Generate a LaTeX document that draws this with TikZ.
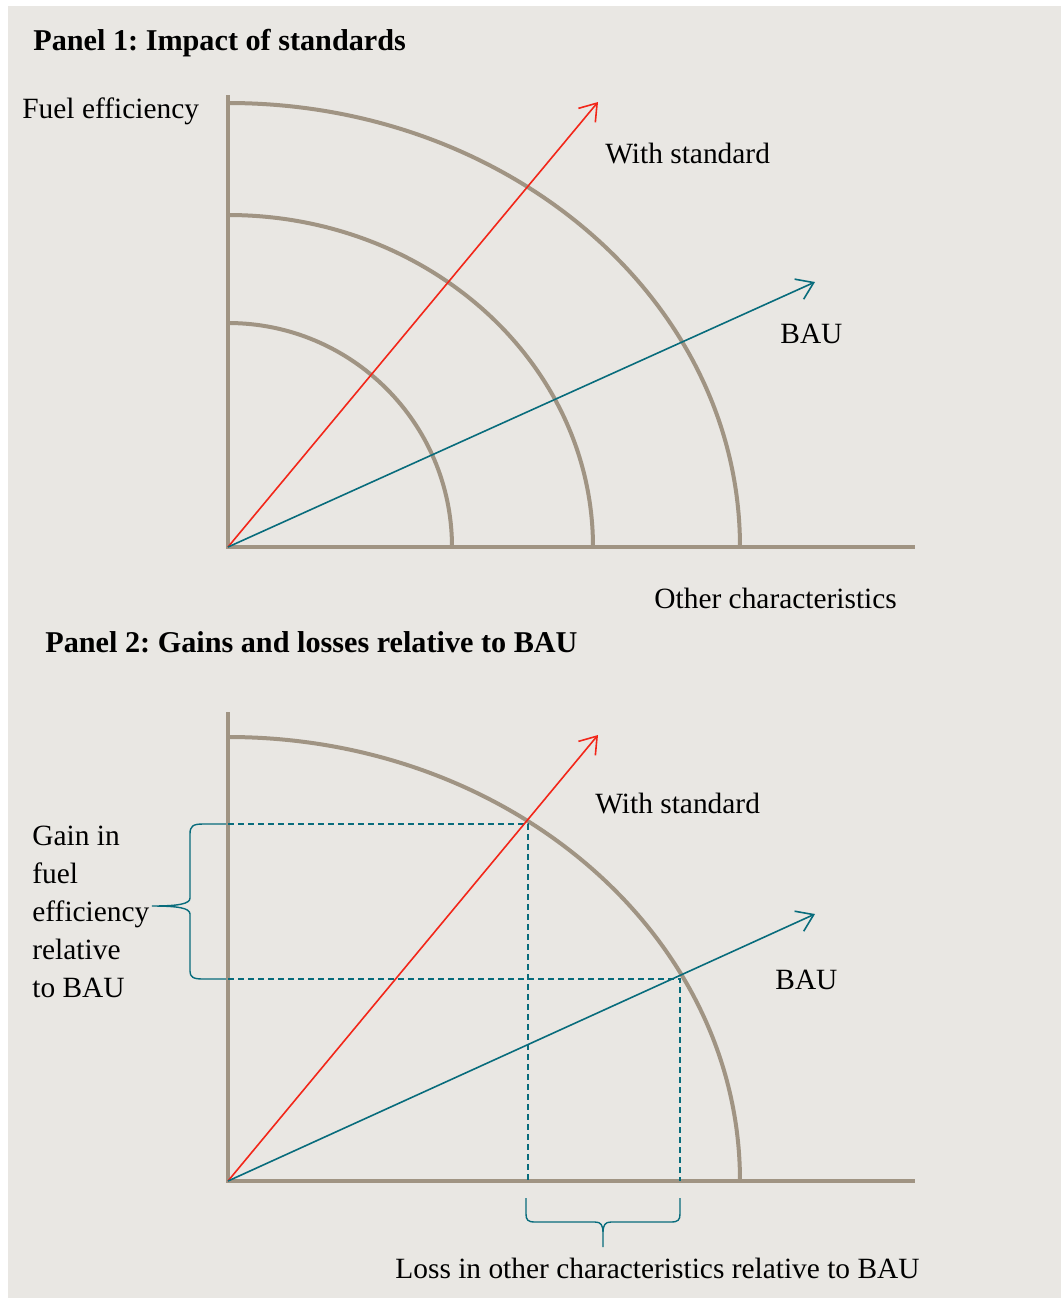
\documentclass[tikz,border=0pt]{standalone}
\usepackage{fontspec}
\setmainfont{Liberation Serif}
\usetikzlibrary{arrows.meta}
\definecolor{axisgrey}{RGB}{160,148,131}
\definecolor{panelbg}{RGB}{233,231,227}
\definecolor{stdred}{RGB}{242,38,25}
\definecolor{bauteal}{RGB}{8,108,124}
\frenchspacing

\begin{document}
\begin{tikzpicture}[x=0.5pt, y=-0.5pt,
    axis/.style={draw=axisgrey, line width=2pt},
    stdarr/.style={-{Straight Barb[length=8pt, width=11pt]}, draw=stdred, line width=0.8pt},
    bauarr/.style={-{Straight Barb[length=8pt, width=11pt]}, draw=bauteal, line width=0.8pt},
    guide/.style={draw=bauteal, dash pattern=on 3pt off 2pt, line width=0.75pt},
    brc/.style={draw=bauteal, line width=0.7pt},
    lbl/.style={anchor=base west, inner sep=0pt, font=\fontsize{14.7}{19}\selectfont},
    ttl/.style={lbl, font=\fontsize{15.1}{19}\selectfont\bfseries}]
  \useasboundingbox (0,0) rectangle (1061,1298);
  \fill[panelbg] (8,6) rectangle (1061,1298);

  % Panel 1
  \coordinate (o1) at (228,547);
  \coordinate (ytop1) at (228,95);
  \coordinate (xend1) at (915,547);
  \coordinate (stdtip1) at (598,102);
  \coordinate (bautip1) at (815,282);
  \draw[axis] (ytop1) -- (o1) -- (xend1);
  \draw[axis] (228,323) arc[start angle=90, end angle=0, x radius=112pt, y radius=112pt];
  \draw[axis] (228,215) arc[start angle=90, end angle=0, x radius=182.5pt, y radius=166pt];
  \draw[axis] (228,103) arc[start angle=90, end angle=0, x radius=256pt, y radius=222pt];
  \draw[stdarr] (o1) -- (stdtip1);
  \draw[bauarr] (o1) -- (bautip1);
  \node[ttl] (title1) at (33,50) {Panel 1: Impact of standards};
  \node[lbl] (yl1) at (22,118) {Fuel efficiency};
  \node[lbl] (ws1) at (605,163) {With standard};
  \node[lbl] (bau1) at (780,343) {BAU};
  \node[lbl] (xl1) at (654,608) {Other characteristics};

  % Panel 2
  \coordinate (o2) at (228,1181);
  \coordinate (ytop2) at (228,712);
  \coordinate (xend2) at (915,1181);
  \coordinate (stdtip2) at (598,735);
  \coordinate (bautip2) at (815,914);
  \coordinate (gw) at (528,824);
  \coordinate (gb) at (680,979);
  \draw[axis] (ytop2) -- (o2) -- (xend2);
  \draw[axis] (228,737) arc[start angle=90, end angle=0, x radius=256pt, y radius=222pt];
  \draw[guide] (gw -| o2) -- (gw) -- (gw |- o2);
  \draw[guide] (gb -| o2) -- (gb) -- (gb |- o2);
  \draw[stdarr] (o2) -- (stdtip2);
  \draw[bauarr] (o2) -- (bautip2);
  \draw[brc] (226,824) -- (203,824) .. controls (193,824) and (190,826) .. (190,834) -- (190,898)
    .. controls (190,904) and (178,906) .. (152,906) .. controls (178,906) and (190,908) .. (190,914)
    -- (190,971) .. controls (190,977) and (193,979) .. (203,979) -- (226,979);
  \draw[brc] (526,1198) -- (526,1214) .. controls (526,1220) and (528,1222) .. (535,1222) -- (595,1222)
    .. controls (601,1222) and (603,1225) .. (603,1233) -- (603,1247) -- (603,1233)
    .. controls (603,1225) and (605,1222) .. (611,1222) -- (671,1222)
    .. controls (678,1222) and (680,1220) .. (680,1214) -- (680,1198);
  \node[ttl] (title2) at (45,652) {Panel 2: Gains and losses relative to BAU};
  \node[lbl] (ws2) at (595,813) {With standard};
  \node[lbl] (bau2) at (775,989) {BAU};
  \node[lbl, anchor=north west, align=left] (gain) at (32,826) {Gain in\\fuel\\efficiency\\relative\\to BAU};
  \node[lbl] (loss) at (395,1278) {Loss in other characteristics relative to BAU};
\end{tikzpicture}
\end{document}
